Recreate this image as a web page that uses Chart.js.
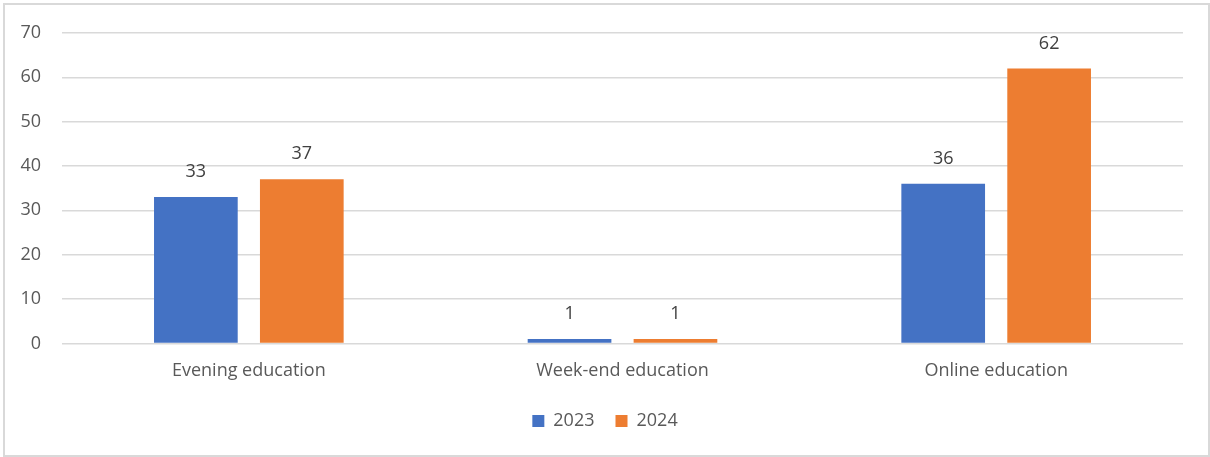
<!DOCTYPE html>
<html>
<head>
<meta charset="utf-8">
<script src="https://cdn.jsdelivr.net/npm/chart.js@4"></script>
<style>
  html, body { margin: 0; padding: 0; background: #ffffff; }
  #frame { position: absolute; left: 3px; top: 3px; width: 1203px; height: 450px; border: 2px solid #d9d9d9; box-sizing: content-box; }
  #wrap { position: absolute; left: 0; top: 0; width: 1210px; height: 457px; }
</style>
</head>
<body>
<div id="frame"></div>
<div id="wrap"><canvas id="chart" width="1210" height="457"></canvas></div>
<script>
const categories = ["Evening education", "Week-end education", "Online education"];
const values2023 = [33, 1, 36];
const values2024 = [37, 1, 62];
const seriesNames = ["2023", "2024"];
const yTicks = [0, 10, 20, 30, 40, 50, 60, 70];

const textColor = "#595959";
const fontFamily = "'Open Sans', 'Liberation Sans', sans-serif";
const fontSize = 18;

// Writes each bar's value just above it
const valueLabels = {
  id: "valueLabels",
  afterDatasetsDraw(chart) {
    const ctx = chart.ctx;
    ctx.save();
    ctx.font = fontSize + "px " + fontFamily;
    ctx.fillStyle = "#404040";
    ctx.textAlign = "center";
    ctx.textBaseline = "middle";
    chart.data.datasets.forEach((ds, i) => {
      chart.getDatasetMeta(i).data.forEach((bar, j) => {
        ctx.fillText(String(ds.data[j]), bar.x, bar.y - 25);
      });
    });
    ctx.restore();
  }
};

// Centres the legend on the whole canvas rather than the padded area
const centreLegend = {
  id: "centreLegend",
  afterLayout(chart) {
    const lg = chart.legend;
    if (!lg) return;
    const shift = chart.width / 2 - (lg.left + lg.right) / 2;
    lg.left += shift;
    lg.right += shift;
  }
};

new Chart(document.getElementById("chart"), {
  type: "bar",
  data: {
    labels: categories,
    datasets: [
      { label: seriesNames[0], data: values2023, backgroundColor: "#4472C4" },
      { label: seriesNames[1], data: values2024, backgroundColor: "#ED7D31" }
    ]
  },
  options: {
    responsive: false,
    animation: false,
    categoryPercentage: 0.567,
    barPercentage: 0.79,
    layout: { padding: { left: 16, right: 27, top: 33, bottom: 17 } },
    plugins: {
      legend: {
        position: "bottom",
        labels: {
          boxWidth: 12, boxHeight: 12, padding: 21,
          color: textColor,
          font: { family: fontFamily, size: fontSize }
        }
      },
      tooltip: { enabled: false }
    },
    scales: {
      x: {
        grid: { display: false },
        border: { display: false },
        ticks: { color: textColor, padding: 9, font: { family: fontFamily, size: fontSize } }
      },
      y: {
        min: 0, max: 70,
        afterBuildTicks(axis) { axis.ticks = yTicks.map(v => ({ value: v })); },
        afterFit(axis) { axis.width = 46; },
        grid: { color: "#d9d9d9", lineWidth: 1.5, drawTicks: false },
        border: { display: false },
        ticks: { color: textColor, padding: 21, font: { family: fontFamily, size: fontSize } }
      }
    }
  },
  plugins: [valueLabels, centreLegend]
});
</script>
</body>
</html>
